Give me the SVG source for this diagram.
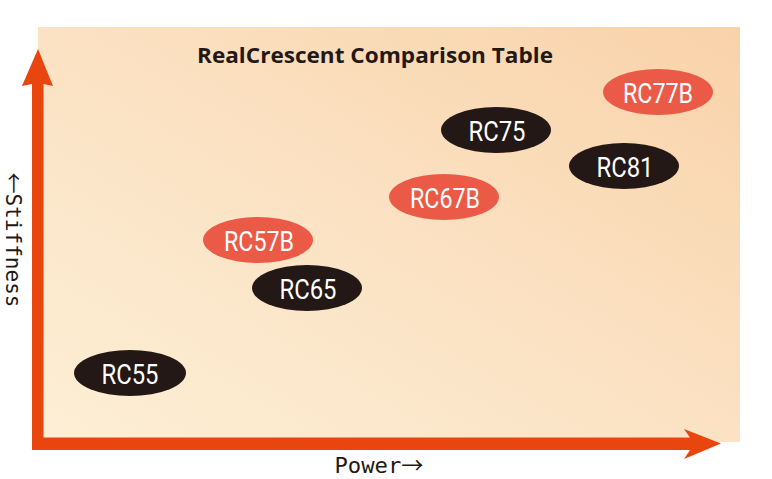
<svg xmlns="http://www.w3.org/2000/svg" width="772" height="479" viewBox="0 0 772 479">
<defs>
<linearGradient id="bg" x1="0" y1="1" x2="1" y2="0">
<stop offset="0" stop-color="#FDEFD6"/>
<stop offset="0.5" stop-color="#FBE2C3"/>
<stop offset="1" stop-color="#F9D2A9"/>
</linearGradient>
<style>
.blk{fill:#231815}
.red{fill:#EA5A47}
.lbl{font-family:Roboto,"Liberation Sans",sans-serif;font-size:28px;fill:#FFFFFF;text-anchor:middle}
.ax{font-family:"DejaVu Sans Mono","Liberation Mono",monospace;font-size:22px;fill:#231815;text-anchor:middle}
.ar{font-family:"Noto Sans CJK JP",sans-serif}
.arrow{fill:#E8460E}
</style>
</defs>
<rect x="38" y="27" width="702" height="415" fill="url(#bg)"/>
<text x="375" y="63" font-family="'Open Sans','Liberation Sans',sans-serif" font-size="21" font-weight="bold" fill="#231815" text-anchor="middle" textLength="356" lengthAdjust="spacingAndGlyphs">RealCrescent Comparison Table</text>
<g id="axes">
<path class="arrow" d="M32,450 L32,84 L22,86 L38,49 L53,86 L43.5,84 L43.5,437.5 L690,437.5 L684,429 L721,443.5 L684,459 L690,450 Z"/>
</g>
<text class="ax" x="379" y="473" textLength="89" lengthAdjust="spacingAndGlyphs">Power<tspan class="ar">→</tspan></text>
<text class="ax" transform="translate(6,240) rotate(90)" x="0" y="0" textLength="135" lengthAdjust="spacingAndGlyphs"><tspan class="ar">←</tspan>Stiffness</text>
<g id="connectors"></g>
<g id="RC77B"><ellipse class="red" cx="658" cy="92" rx="55" ry="23"/><text class="lbl" x="658" y="102.5" textLength="70" lengthAdjust="spacingAndGlyphs">RC77B</text></g>
<g id="RC75"><ellipse class="blk" cx="496" cy="130" rx="55" ry="23"/><text class="lbl" x="497" y="140.5" textLength="57" lengthAdjust="spacingAndGlyphs">RC75</text></g>
<g id="RC81"><ellipse class="blk" cx="624" cy="166" rx="55" ry="23"/><text class="lbl" x="625" y="176.5" textLength="57" lengthAdjust="spacingAndGlyphs">RC81</text></g>
<g id="RC67B"><ellipse class="red" cx="444" cy="197" rx="55" ry="23"/><text class="lbl" x="445" y="207.5" textLength="70" lengthAdjust="spacingAndGlyphs">RC67B</text></g>
<g id="RC57B"><ellipse class="red" cx="258" cy="240" rx="55" ry="23"/><text class="lbl" x="259" y="250.5" textLength="70" lengthAdjust="spacingAndGlyphs">RC57B</text></g>
<g id="RC65"><ellipse class="blk" cx="307" cy="288" rx="55" ry="23"/><text class="lbl" x="308" y="298.5" textLength="57" lengthAdjust="spacingAndGlyphs">RC65</text></g>
<g id="RC55"><ellipse class="blk" cx="130" cy="373" rx="56" ry="23"/><text class="lbl" x="130" y="383.5" textLength="57" lengthAdjust="spacingAndGlyphs">RC55</text></g>
</svg>
